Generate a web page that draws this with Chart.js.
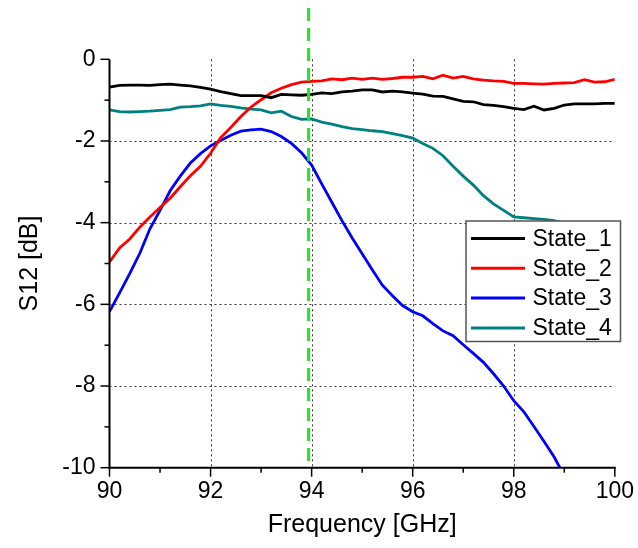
<!DOCTYPE html>
<html>
<head>
<meta charset="utf-8">
<script src="https://cdn.jsdelivr.net/npm/chart.js@4/dist/chart.umd.min.js"></script>
<style>
  html, body { margin: 0; padding: 0; background: #ffffff; }
  canvas { display: block; }
</style>
</head>
<body>
<canvas id="c" width="638" height="548"></canvas>
<script>
// ---------- data ----------
const frequency = [
  90.0, 90.2, 90.4, 90.6, 90.8, 91.0, 91.2, 91.4, 91.6, 91.8,
  92.0, 92.2, 92.4, 92.6, 92.8, 93.0, 93.2, 93.4, 93.6, 93.8,
  94.0, 94.2, 94.4, 94.6, 94.8, 95.0, 95.2, 95.4, 95.6, 95.8,
  96.0, 96.2, 96.4, 96.6, 96.8, 97.0, 97.2, 97.4, 97.6, 97.8,
  98.0, 98.2, 98.4, 98.6, 98.8, 99.0, 99.2, 99.4, 99.6, 99.8, 100.0
];
const state1 = [
  -0.68, -0.64, -0.63, -0.63, -0.64, -0.62, -0.61, -0.63, -0.65, -0.69,
  -0.73, -0.79, -0.84, -0.89, -0.89, -0.89, -0.94, -0.86, -0.87, -0.88,
  -0.86, -0.82, -0.84, -0.80, -0.78, -0.75, -0.75, -0.80, -0.78, -0.80,
  -0.83, -0.85, -0.90, -0.91, -0.97, -1.03, -1.04, -1.11, -1.13, -1.16,
  -1.20, -1.23, -1.15, -1.24, -1.20, -1.12, -1.09, -1.09, -1.09, -1.08, -1.08
];
const state2 = [
  -4.96, -4.62, -4.40, -4.11, -3.86, -3.63, -3.40, -3.12, -2.85, -2.62,
  -2.30, -1.92, -1.67, -1.40, -1.17, -0.99, -0.82, -0.71, -0.62, -0.56,
  -0.54, -0.53, -0.48, -0.50, -0.46, -0.49, -0.46, -0.49, -0.47, -0.44,
  -0.44, -0.42, -0.48, -0.39, -0.46, -0.42, -0.48, -0.51, -0.53, -0.54,
  -0.59, -0.59, -0.60, -0.61, -0.59, -0.58, -0.57, -0.50, -0.56, -0.55, -0.49
];
const state3 = [
  -6.18, -5.72, -5.25, -4.75, -4.15, -3.70, -3.22, -2.86, -2.54, -2.31,
  -2.12, -1.99, -1.86, -1.76, -1.73, -1.71, -1.77, -1.89, -2.06, -2.29,
  -2.59, -3.05, -3.50, -3.95, -4.37, -4.76, -5.15, -5.53, -5.79, -6.03,
  -6.18, -6.28, -6.47, -6.65, -6.77, -6.99, -7.20, -7.42, -7.70, -8.00,
  -8.36, -8.63, -8.99, -9.36, -9.74, -10.20, null, null, null, null, null
];
const state4 = [
  -1.24, -1.28, -1.29, -1.28, -1.27, -1.25, -1.23, -1.17, -1.16, -1.14,
  -1.09, -1.13, -1.15, -1.19, -1.22, -1.24, -1.31, -1.27, -1.40, -1.47,
  -1.46, -1.54, -1.59, -1.65, -1.70, -1.72, -1.75, -1.77, -1.82, -1.87,
  -1.93, -2.06, -2.18, -2.36, -2.62, -2.86, -3.08, -3.34, -3.54, -3.70,
  -3.86, -3.88, -3.90, -3.92, -3.95, -4.02, -4.12, -4.22, -4.30, -4.38, -4.45
];
const seriesNames = ['State_1', 'State_2', 'State_3', 'State_4'];
const markerFrequency = 93.94;
const xTickValues = [90, 92, 94, 96, 98, 100];
const yTickValues = [-10, -8, -6, -4, -2, 0];

// ---------- styling ----------
const FONT = "'Liberation Sans', Arial, sans-serif";
const colors = ['#000000', '#ff0000', '#0000ff', '#008080'];
const seriesValues = [state1, state2, state3, state4];

const datasets = seriesValues.map((vals, i) => ({
  label: seriesNames[i],
  data: frequency.map((f, k) => ({ x: f, y: vals[k] })),
  borderColor: colors[i],
  backgroundColor: colors[i],
  borderWidth: 2.8,
  pointRadius: 0,
  tension: 0,
  fill: false
}));

// grid, ticks and axis lines drawn through the chart's own scales
const axesPlugin = {
  id: 'axesPlugin',
  beforeDatasetsDraw(chart) {
    const { ctx, chartArea: a, scales: { x, y } } = chart;
    ctx.save();
    ctx.strokeStyle = '#333333';
    ctx.lineWidth = 1;
    ctx.setLineDash([2, 3]);
    xTickValues.forEach(v => {
      if (v === x.min || v === x.max) return;
      const px = Math.round(x.getPixelForValue(v)) + 0.5;
      ctx.beginPath(); ctx.moveTo(px, a.top); ctx.lineTo(px, a.bottom); ctx.stroke();
    });
    yTickValues.forEach(v => {
      if (v === y.min || v === y.max) return;
      const py = Math.round(y.getPixelForValue(v)) + 0.5;
      ctx.beginPath(); ctx.moveTo(a.left, py); ctx.lineTo(a.right, py); ctx.stroke();
    });
    ctx.restore();
  },
  afterDatasetsDraw(chart) {
    const { ctx, chartArea: a, scales: { x, y } } = chart;
    ctx.save();
    // marker line
    ctx.strokeStyle = '#22e622';
    ctx.lineWidth = 3;
    ctx.setLineDash([13, 7]);
    const mx = x.getPixelForValue(markerFrequency);
    ctx.beginPath(); ctx.moveTo(mx, 8); ctx.lineTo(mx, a.bottom); ctx.stroke();
    ctx.setLineDash([]);
    // axis lines
    ctx.strokeStyle = '#000000';
    ctx.lineWidth = 2;
    ctx.beginPath();
    ctx.moveTo(a.left, a.top);
    ctx.lineTo(a.left, a.bottom);
    ctx.lineTo(a.right + 1, a.bottom);
    ctx.stroke();
    // tick marks
    ctx.lineWidth = 1.5;
    for (let v = x.min; v <= x.max; v += 1) {
      const px = x.getPixelForValue(v);
      const len = (v % 2 === 0) ? 9 : 5;
      ctx.beginPath(); ctx.moveTo(px, a.bottom); ctx.lineTo(px, a.bottom + len); ctx.stroke();
    }
    for (let v = y.min; v <= y.max; v += 1) {
      const py = y.getPixelForValue(v);
      const len = (v % 2 === 0) ? 9 : 5;
      ctx.beginPath(); ctx.moveTo(a.left, py); ctx.lineTo(a.left - len, py); ctx.stroke();
    }
    ctx.restore();
  },
  afterDraw(chart) {
    const { ctx } = chart;
    ctx.save();
    const bx = 466, by = 221, bw = 154.5, bh = 120.5;
    ctx.fillStyle = '#ffffff';
    ctx.fillRect(bx, by, bw, bh);
    ctx.strokeStyle = '#555555';
    ctx.lineWidth = 1.5;
    ctx.strokeRect(bx, by, bw, bh);
    ctx.font = '23px ' + FONT;
    ctx.textBaseline = 'middle';
    ctx.textAlign = 'left';
    seriesNames.forEach((name, i) => {
      const cy = by + 17.5 + i * 29.8;
      ctx.strokeStyle = colors[i];
      ctx.lineWidth = 3;
      ctx.beginPath(); ctx.moveTo(bx + 5, cy); ctx.lineTo(bx + 59, cy); ctx.stroke();
      ctx.fillStyle = '#000000';
      ctx.fillText(name, bx + 66.5, cy + 1);
    });
    ctx.restore();
  }
};

new Chart(document.getElementById('c'), {
  type: 'line',
  data: { datasets },
  options: {
    responsive: false,
    animation: false,
    devicePixelRatio: 1,
    layout: { padding: { left: 0, right: 23, top: 59.3, bottom: 0 } },
    plugins: { legend: { display: false }, tooltip: { enabled: false } },
    scales: {
      x: {
        type: 'linear',
        min: 90, max: 100,
        grid: { display: false, drawTicks: false },
        border: { display: false },
        ticks: {
          stepSize: 1,
          autoSkip: false,
          maxRotation: 0,
          padding: 4,
          color: '#000000',
          font: { family: FONT, size: 23, lineHeight: 1.7 },
          callback: v => (xTickValues.includes(v) ? String(v) : '')
        },
        title: {
          display: true,
          text: 'Frequency [GHz]',
          color: '#000000',
          font: { family: FONT, size: 25 },
          padding: { top: 8, bottom: 8 }
        },
        afterFit: s => { s.height = 80.3; }
      },
      y: {
        type: 'linear',
        min: -10, max: 0,
        grid: { display: false, drawTicks: false },
        border: { display: false },
        ticks: {
          stepSize: 1,
          autoSkip: false,
          padding: 14,
          color: '#000000',
          font: { family: FONT, size: 23 },
          callback: v => (yTickValues.includes(v) ? String(v) : '')
        },
        title: {
          display: true,
          text: 'S12 [dB]',
          color: '#000000',
          font: { family: FONT, size: 25 },
          padding: { top: 15, bottom: 15 }
        },
        afterFit: s => { s.width = 109.5; }
      }
    }
  },
  plugins: [axesPlugin]
});
</script>
</body>
</html>
